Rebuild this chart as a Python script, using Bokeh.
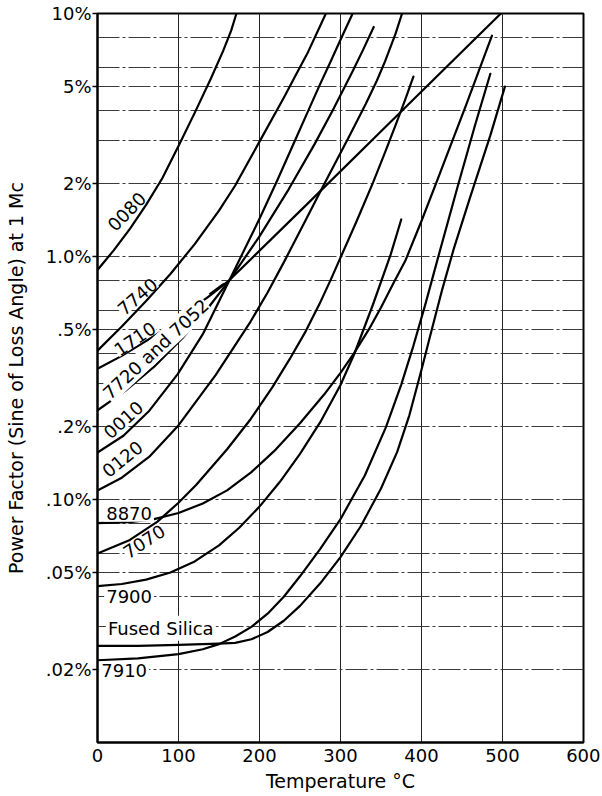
from bokeh.plotting import figure
from bokeh.models import Range1d, FixedTicker
from bokeh.core.properties import value
from bokeh.embed import file_html
from bokeh.resources import INLINE

FONT = "DejaVu Sans"

# ---------------- axes ----------------
x_ticks = [0, 100, 200, 300, 400, 500, 600]
y_ticks = [0.02, 0.05, 0.1, 0.2, 0.5, 1.0, 2.0, 5.0, 10.0]
y_tick_labels = [".02%", ".05%", ".10%", ".2%", ".5%", "1.0%", "2%", "5%", "10%"]
x_grid = [100, 200, 300, 400, 500]
y_grid = [0.02, 0.03, 0.04, 0.05, 0.06, 0.08, 0.1, 0.2, 0.3, 0.4, 0.5, 0.6, 0.8,
          1.0, 2.0, 3.0, 4.0, 5.0, 6.0, 8.0]

# ---------------- curves (temperature degC, power factor %) ----------------
t_0080 = [0, 20, 40, 60, 80, 100, 120, 140, 155, 165, 171.5]
pf_0080 = [0.88, 1.06, 1.30, 1.63, 2.1, 2.85, 3.9, 5.4, 7.0, 8.5, 10.0]

t_7740 = [0, 30, 60, 90, 120, 150, 170, 200, 230, 245, 260, 282]
pf_7740 = [0.41, 0.515, 0.656, 0.847, 1.125, 1.545, 1.96, 2.97, 4.5, 5.6, 6.95, 10.0]

t_1710 = [0, 30, 74, 120, 140, 163, 261, 368, 498]
pf_1710 = [0.345, 0.39, 0.48, 0.62, 0.695, 0.8, 1.67, 3.75, 10.0]

t_7720 = [0, 35, 70, 105, 136, 163, 200, 236, 268, 290, 315, 328, 341]
pf_7720 = [0.233, 0.281, 0.352, 0.462, 0.611, 0.8, 1.21, 1.89, 2.9, 3.97, 5.78, 7.1, 8.8]

t_0010 = [0, 32, 64, 99, 130, 163, 200, 222, 243, 259, 274, 287, 300, 315]
pf_0010 = [0.156, 0.183, 0.232, 0.328, 0.479, 0.8, 1.43, 2.06, 2.96, 3.9, 5.05, 6.26, 7.8, 10.0]

t_0120 = [0, 30, 64, 99, 146, 189, 210, 230, 255, 278, 310, 331, 345, 355, 368, 376]
pf_0120 = [0.109, 0.123, 0.150, 0.200, 0.326, 0.540, 0.711, 0.946, 1.37, 1.93, 3.09, 4.23,
           5.3, 6.35, 8.26, 10.0]

t_8870 = [0, 40, 70, 100, 130, 160, 190, 220, 250, 280, 300, 317, 335, 350, 365, 380, 400,
          420, 455, 487]
pf_8870 = [0.08, 0.0807, 0.083, 0.088, 0.0963, 0.109, 0.1296, 0.1605, 0.206, 0.271, 0.332,
           0.401, 0.501, 0.617, 0.772, 0.96, 1.4, 2.08, 4.2, 8.1]

t_7070 = [0, 40, 74, 100, 122, 160, 189, 216, 237, 257, 274, 288, 300, 320, 340, 355, 368,
          380, 390]
pf_7070 = [0.06, 0.0682, 0.0811, 0.097, 0.115, 0.161, 0.214, 0.29, 0.377, 0.492, 0.637,
           0.803, 0.989, 1.40, 2.01, 2.68, 3.47, 4.43, 5.5]

t_7900 = [0, 30, 60, 90, 120, 150, 175, 200, 225, 250, 275, 300, 317, 340, 362, 375]
pf_7900 = [0.044, 0.0449, 0.0468, 0.0501, 0.0556, 0.0647, 0.0765, 0.0935, 0.118, 0.154,
           0.208, 0.296, 0.397, 0.633, 1.02, 1.42]

t_silica = [0, 50, 100, 150, 170, 190, 210, 230, 250, 275, 300, 325, 350, 370, 385, 400,
            412, 425, 440, 460, 485, 503]
pf_silica = [0.025, 0.025, 0.0252, 0.0255, 0.0257, 0.0266, 0.0285, 0.0317, 0.0365, 0.0452,
             0.0579, 0.0776, 0.111, 0.157, 0.222, 0.342, 0.49, 0.72, 1.08, 1.75, 3.15, 5.0]

t_7910 = [0, 50, 100, 130, 150, 170, 190, 210, 230, 250, 275, 300, 330, 356, 375, 390, 405,
          420, 445, 466, 485]
pf_7910 = [0.0218, 0.0222, 0.0231, 0.0242, 0.0254, 0.0273, 0.0299, 0.0339, 0.0398, 0.0483,
           0.0626, 0.083, 0.1256, 0.198, 0.297, 0.429, 0.64, 0.978, 1.96, 3.46, 5.65]

# ---------------- curve labels ----------------
slant_text = ["0080", "7740", "1710", "7720 and 7052", "0010", "0120", "7070"]
slant_t = [36.2, 49.4, 46.3, 72.0, 31.9, 30.9, 57.5]
slant_pf = [1.53, 0.684, 0.458, 0.4165, 0.2127, 0.1467, 0.0671]
slant_angle = [46, 41, 34, 43, 42, 39, 33]

flat_text = ["8870", "7900", "Fused Silica", "7910"]
flat_t = [39.0, 39.0, 78.1, 32.9]
flat_pf = [0.0877, 0.0398, 0.0295, 0.0197]

leader_t = [138, 156]
leader_pf = [0.70, 0.775]

# ---------------- figure ----------------
p = figure(width=600, height=796,
           x_range=Range1d(0, 600), y_range=Range1d(0.01, 10),
           y_axis_type="log", output_backend="svg", toolbar_location=None,
           min_border_left=97, min_border_right=17, min_border_top=13, min_border_bottom=54)
p.background_fill_color = "white"
p.border_fill_color = "white"
p.outline_line_color = "black"
p.outline_line_width = 2

# grids
p.xgrid.ticker = FixedTicker(ticks=x_grid)
p.xgrid.grid_line_color = "#222222"
p.xgrid.grid_line_width = 1
p.ygrid.ticker = FixedTicker(ticks=y_grid)
p.ygrid.grid_line_color = "#3a3a3a"
p.ygrid.grid_line_width = 1
p.ygrid.grid_line_dash = "22 3 3 3"

# x axis
p.xaxis.ticker = FixedTicker(ticks=x_ticks)
p.xaxis.axis_label = "Temperature °C"
p.xaxis.major_tick_out = 0
p.xaxis.major_tick_in = 0
p.xaxis.minor_tick_line_color = None
p.xaxis.major_label_standoff = 6
p.xaxis.axis_label_standoff = 5

# y axis
p.yaxis.ticker = FixedTicker(ticks=y_ticks)
p.yaxis.major_label_overrides = {v: s for v, s in zip(y_ticks, y_tick_labels)}
p.yaxis.axis_label = "Power Factor (Sine of Loss Angle) at 1 Mc"
p.yaxis.major_tick_out = 5
p.yaxis.major_tick_in = 0
p.yaxis.major_tick_line_width = 1.5
p.yaxis.minor_tick_line_color = None
p.yaxis.major_label_standoff = 1
p.yaxis.axis_label_standoff = 16

for ax in (p.xaxis, p.yaxis):
    ax.axis_line_width = 2
    ax.axis_line_color = "black"
    ax.major_label_text_font = FONT
    ax.major_label_text_font_size = "18px"
    ax.major_label_text_color = "black"
    ax.axis_label_text_font = FONT
    ax.axis_label_text_font_size = "19px"
    ax.axis_label_text_font_style = "normal"
    ax.axis_label_text_color = "black"

# curves
series = [
    (t_0080, pf_0080), (t_7740, pf_7740), (t_1710, pf_1710), (t_7720, pf_7720),
    (t_0010, pf_0010), (t_0120, pf_0120), (t_8870, pf_8870), (t_7070, pf_7070),
    (t_7900, pf_7900), (t_silica, pf_silica), (t_7910, pf_7910),
]
for t, pf in series:
    p.line(t, pf, line_color="black", line_width=2.2, line_join="round", line_cap="round")

p.line(leader_t, leader_pf, line_color="black", line_width=1.6)

# labels
p.text(x=slant_t, y=slant_pf, text=slant_text, angle=slant_angle, angle_units="deg",
       text_font=value(FONT), text_font_size=value("18px"), text_color="black",
       text_align="center", text_baseline="middle",
       background_fill_color="white", padding=0)
p.text(x=flat_t, y=flat_pf, text=flat_text,
       text_font=value(FONT), text_font_size=value("18px"), text_color="black",
       text_align="center", text_baseline="middle",
       background_fill_color="white", padding=2)

open("out.html", "w").write(file_html(p, INLINE))
